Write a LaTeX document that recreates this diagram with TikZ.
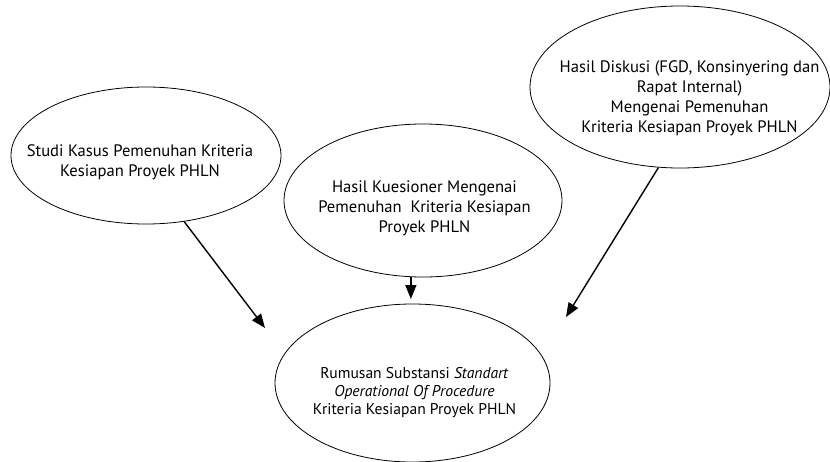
\documentclass[tikz,border=0pt]{standalone}
\usepackage{fontspec}
\setmainfont{PT Sans}
\usetikzlibrary{shapes.geometric,arrows.meta}

\tikzset{
  bubble/.style={ellipse, draw=black, line width=0.8pt, inner sep=0pt},
  lbl/.style={align=center, inner sep=0pt, font=\fontsize{16.6}{20}\selectfont},
  lblsmall/.style={align=center, inner sep=0pt, font=\fontsize{15.6}{17.6}\selectfont},
  flow/.style={line width=1.4pt, -{Triangle[length=14pt,width=11pt]}}
}

\begin{document}
\begin{tikzpicture}[x=1pt, y=-1pt]
  \useasboundingbox (0,0) rectangle (830,461);

  % the four ellipses
  \node[bubble, minimum width=270pt, minimum height=137pt] (e1) at (146,155.5) {};
  \node[bubble, minimum width=278pt, minimum height=153pt] (e2) at (423,200.5) {};
  \node[bubble, minimum width=300pt, minimum height=162pt] (e3) at (680,87) {};
  \node[bubble, minimum width=275pt, minimum height=158pt] (e4) at (412.5,383) {};

  % their texts
  \node[lbl] (t1) at (140,162) {Studi Kasus Pemenuhan Kriteria\\Kesiapan Proyek PHLN};
  \node[lbl] (t2) at (424.5,208) {Hasil Kuesioner Mengenai\\Pemenuhan\ \ Kriteria Kesiapan\\Proyek PHLN};
  \node[lbl] (t3) at (689.5,98) {Hasil Diskusi (FGD, Konsinyering dan\\Rapat Internal)\\Mengenai Pemenuhan\\Kriteria Kesiapan Proyek PHLN};
  \node[lblsmall] (t4) at (414.5,392.5) {Rumusan Substansi \textit{Standart}\\\textit{Operational Of Procedure}\\Kriteria Kesiapan Proyek PHLN};

  % free ends of the arrows
  \coordinate (c1) at (265,328);
  \coordinate (c2) at (410,299);
  \coordinate (c3) at (566,317);

  % arrows into the result
  \draw[flow] (e1.-60) -- (c1);
  \draw[flow] (e2.-99) -- (e2.-99 |- c2);
  \draw[flow] (e3.-105) -- (c3);
\end{tikzpicture}
\end{document}
